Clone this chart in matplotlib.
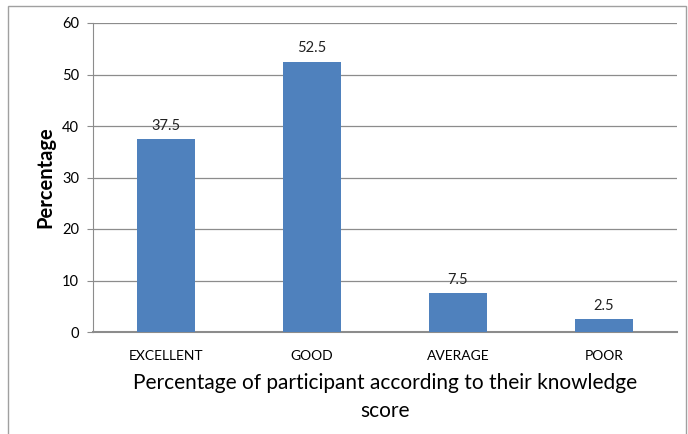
import matplotlib
matplotlib.use("Agg")
import matplotlib.pyplot as plt
from matplotlib.patches import Rectangle

categories = ["EXCELLENT", "GOOD", "AVERAGE", "POOR"]
percentages = [37.5, 52.5, 7.5, 2.5]
y_ticks = [0, 10, 20, 30, 40, 50, 60]

plt.rcParams['font.family'] = ['Lato', 'DejaVu Sans']

W, H = 688, 434
fig = plt.figure(figsize=(W / 100, H / 100), dpi=100)

# outer chart border
fig.patches.append(Rectangle((8 / W, -0.05), (686 - 8) / W, 1.05 - 6 / H,
                             transform=fig.transFigure, fill=False,
                             edgecolor='#a0a0a0', linewidth=1.0))

ax = fig.add_axes([93 / W, (H - 332) / H, (677 - 93) / W, (332 - 23) / H])

x = range(len(categories))
bars = ax.bar(x, percentages, width=0.4, color='#4F81BD', zorder=3)
for xi, v in zip(x, percentages):
    ax.text(xi, v + 1.2, f"{v}", ha='center', va='bottom', fontsize=10.5, color='#222222')

ax.set_xlim(-0.5, len(categories) - 0.5)
ax.set_ylim(0, 60)
ax.set_yticks(y_ticks)
ax.set_xticks(list(x))
ax.set_xticklabels(categories, fontsize=10)
ax.tick_params(axis='x', length=0, pad=13)
ax.tick_params(axis='y', length=4, color='#8c8c8c', labelsize=10.5, pad=6)
ax.yaxis.grid(True, color='#8c8c8c', linewidth=0.9, zorder=0)
for s in ['top', 'right']:
    ax.spines[s].set_visible(False)
ax.spines['left'].set_color('#8c8c8c')
ax.spines['bottom'].set_color('#8c8c8c')
ax.spines['bottom'].set_linewidth(1.5)

ax.set_ylabel("Percentage", fontsize=14.5, fontweight='bold', labelpad=5)
ax.set_xlabel("Percentage of participant according to their knowledge\nscore",
              fontsize=15, labelpad=8, linespacing=1.5)

fig.savefig("out.png", dpi=100)
